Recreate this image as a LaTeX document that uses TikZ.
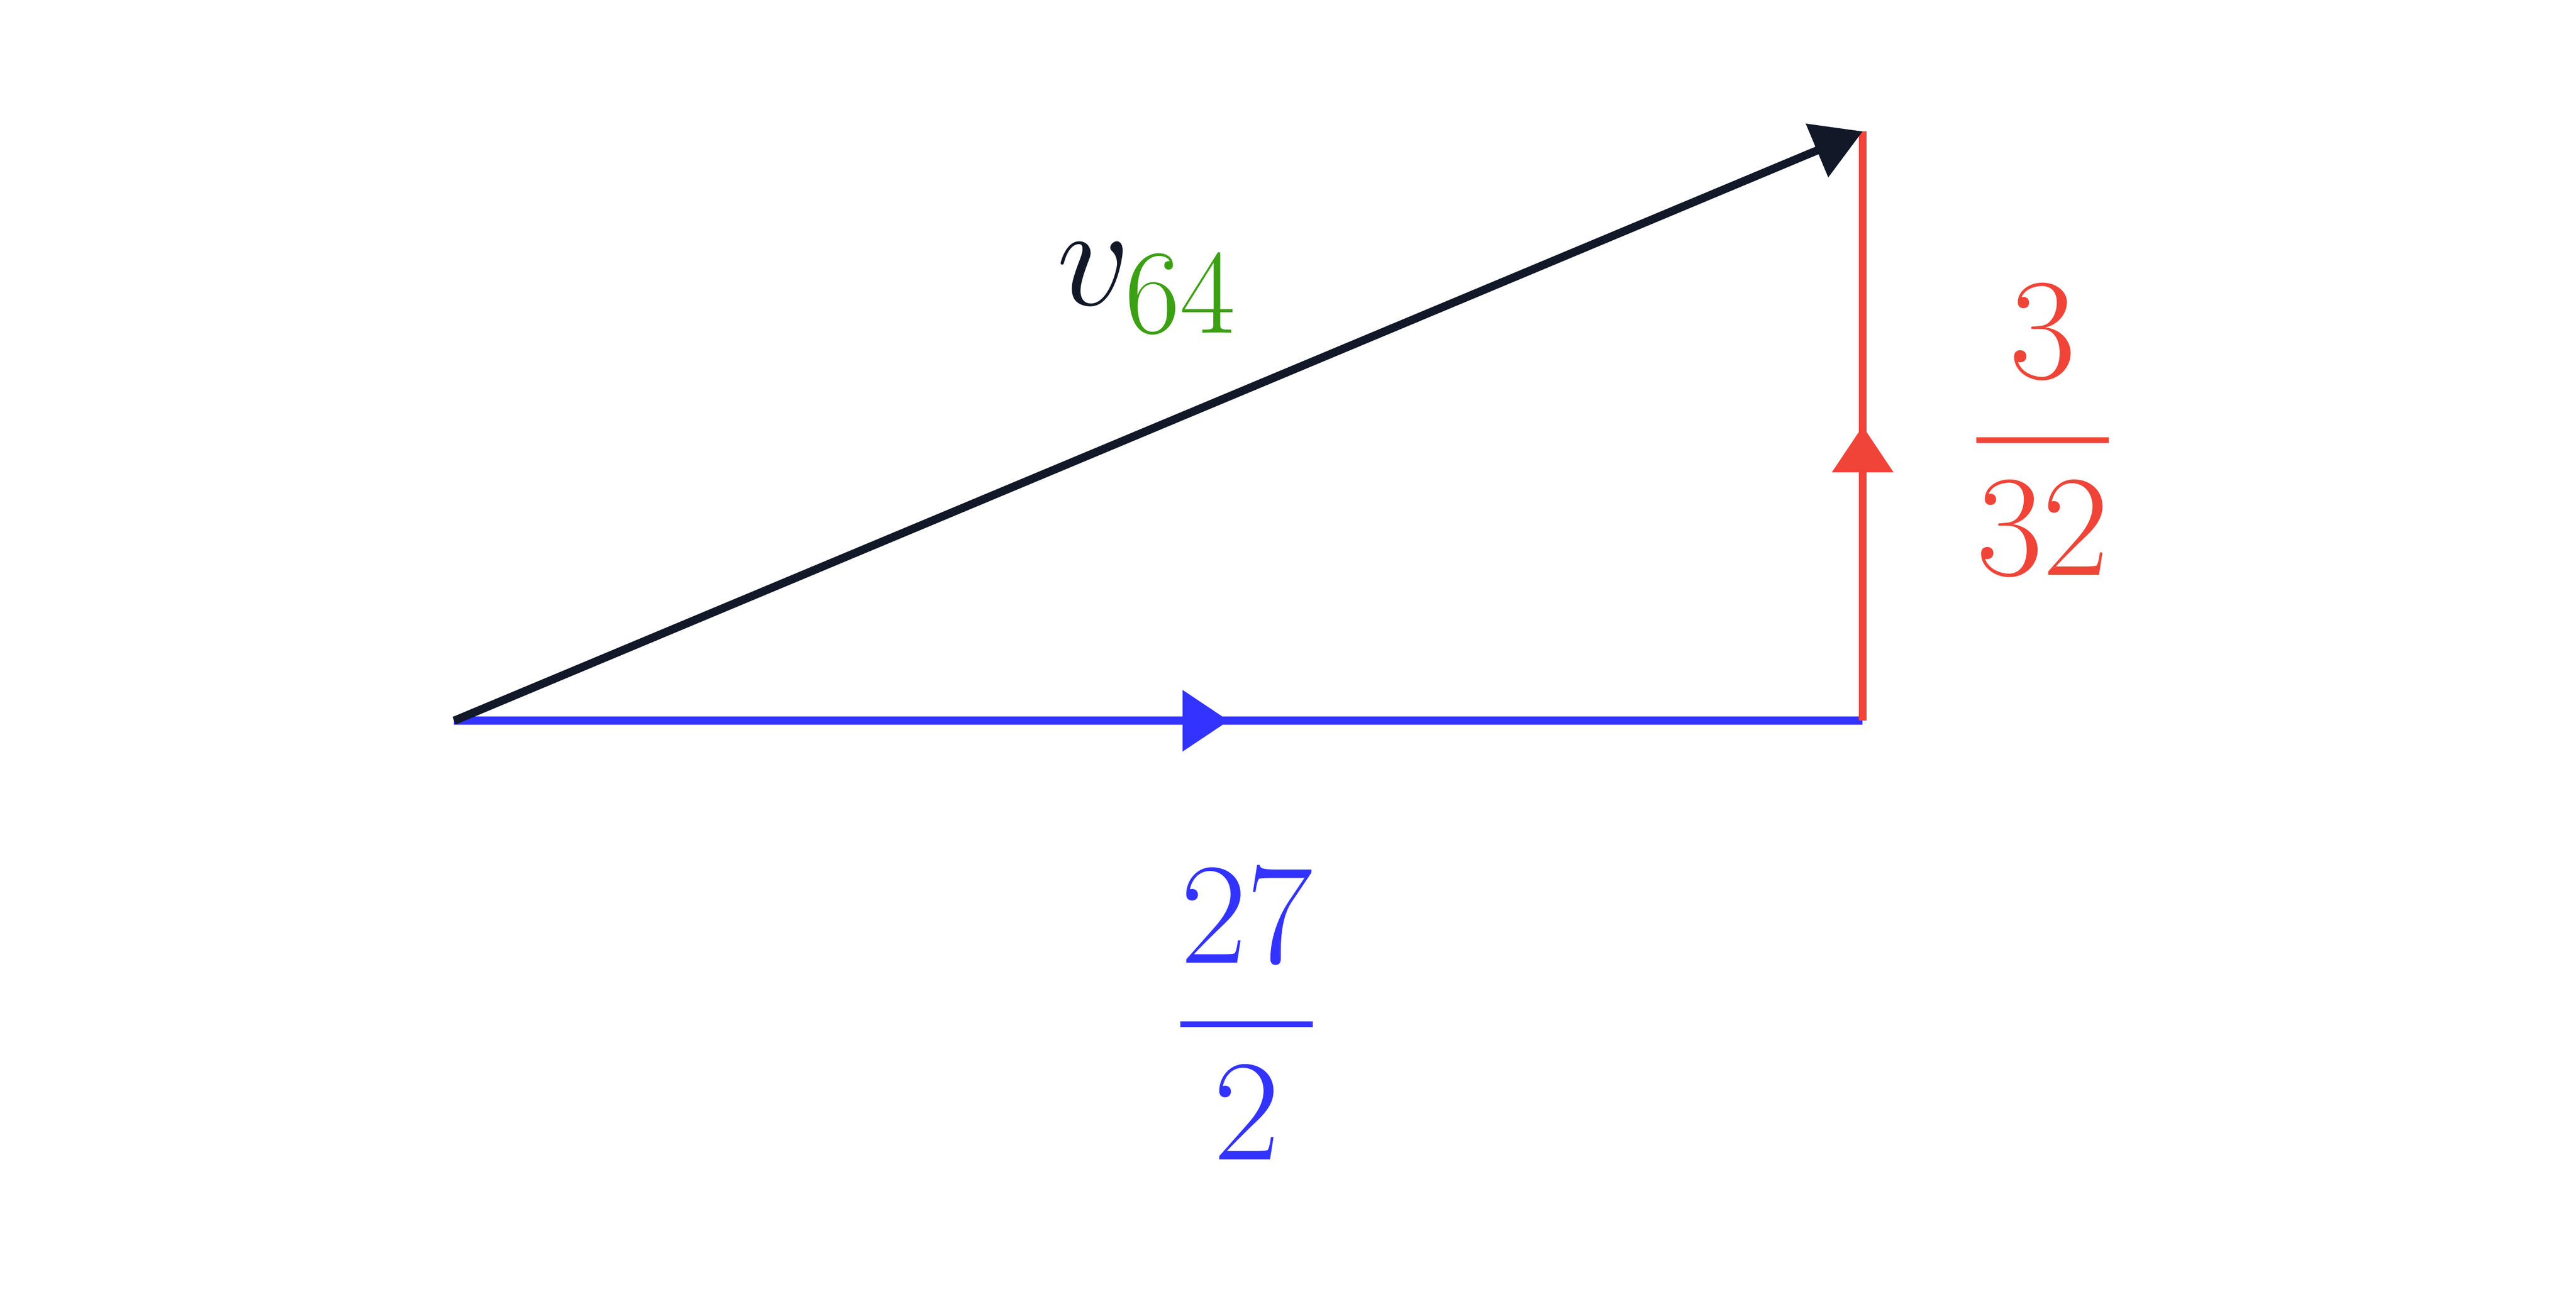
\documentclass[tikz,border=0pt]{standalone}
\usepackage{amsmath}
\usetikzlibrary{arrows.meta,decorations.markings}
\definecolor{vblue}{RGB}{51,51,255}
\definecolor{vred}{RGB}{240,68,56}
\definecolor{vdark}{RGB}{17,24,39}
\definecolor{vgreen}{RGB}{60,160,20}
\tikzset{
  vec/.style={line width=1.4pt},
  midarrow/.style={postaction={decorate},decoration={markings,
    mark=at position 0.55 with {\arrow{Triangle[length=0.28cm,width=0.36cm]}}}},
  biglabel/.style={font=\fontsize{28}{32}\selectfont}
}
\begin{document}
\begin{tikzpicture}
\useasboundingbox (0,0) rectangle (15.6,7.866);
%---------------------Corners------------------%
\coordinate (start) at (2.75,3.50);
\coordinate (corner) at (11.28,3.50);
\coordinate (tip) at (11.28,7.07);
%---------------------Vectors------------------%
\draw[vec,vblue,midarrow] (start) -- (corner);
\draw[vec,vred,postaction={decorate},decoration={markings,
    mark=at position 0.5 with {\arrow{Triangle[length=0.28cm,width=0.36cm]}}}] (corner) -- (tip);
\draw[vec,vdark,-{Triangle[length=0.3cm,width=0.34cm]}] (start) -- (tip);
%---------------------Labels------------------%
\node[biglabel,vdark] (vlabel) at (6.95,6.12) {$v_{\color{vgreen}64}$};
\node[biglabel,vred] (uplabel) at (12.37,5.26) {$\dfrac{3}{32}$};
\node[biglabel,vblue] (rightlabel) at (7.55,1.72) {$\dfrac{27}{2}$};
\end{tikzpicture}
\end{document}
